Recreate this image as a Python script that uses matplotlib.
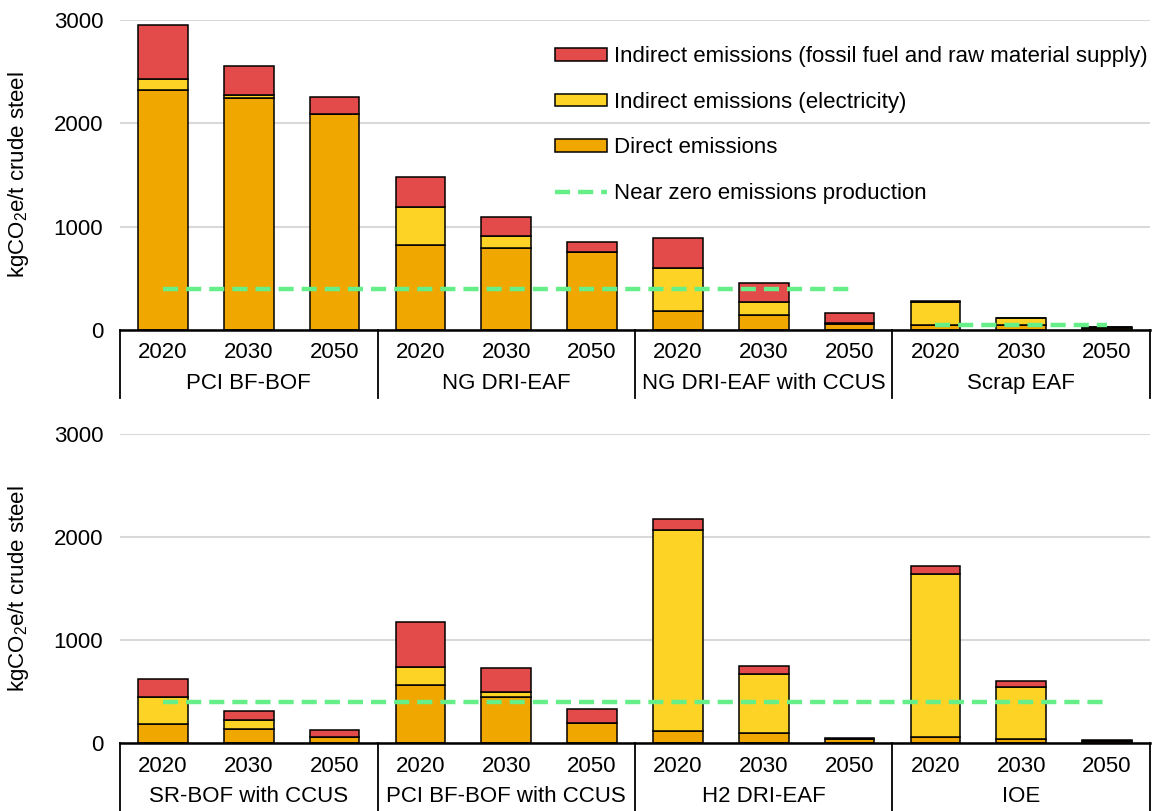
import numpy as np
import matplotlib
matplotlib.use('Agg')
import matplotlib.pyplot as plt
from matplotlib.patches import Patch
from matplotlib.lines import Line2D

plt.rcParams['font.family'] = ['Liberation Sans', 'DejaVu Sans']
plt.rcParams['mathtext.fontset'] = 'custom'
plt.rcParams['mathtext.rm'] = 'Liberation Sans'
plt.rcParams['mathtext.it'] = 'Liberation Sans'

years = ['2020', '2030', '2050']

# top panel
groups_top = ['PCI BF-BOF', 'NG DRI-EAF', 'NG DRI-EAF with CCUS', 'Scrap EAF']
direct_top = [2326, 2245, 2090, 820, 794, 752, 187, 145, 60, 52, 45, 20]
elec_top = [100, 30, 0, 374, 116, 0, 416, 126, 5, 216, 70, 8]
indirect_top = [526, 275, 168, 290, 181, 103, 291, 181, 96, 13, 5, 5]
nz_top = [400, 400, 400, 400, 400, 400, 400, 400, 400, np.nan, np.nan, np.nan]
nz_scrap = [np.nan, np.nan, np.nan, np.nan, np.nan, np.nan, np.nan, np.nan, np.nan, 50, 50, 50]

# bottom panel
groups_bot = ['SR-BOF with CCUS', 'PCI BF-BOF with CCUS', 'H2 DRI-EAF', 'IOE']
direct_bot = [180, 139, 58, 562, 443, 194, 116, 93, 38, 54, 42, 18]
elec_bot = [269, 80, 0, 178, 55, 0, 1953, 579, 5, 1585, 497, 4]
indirect_bot = [172, 87, 71, 430, 226, 136, 104, 71, 10, 81, 62, 7]
nz_bot = [400, 400, 400, 400, 400, 400, 400, 400, 400, 400, 400, 400]

c_direct = '#F0A800'
c_elec = '#FDD326'
c_ind = '#E24B4A'
c_nz = '#66EE88'
fs = 16

fig = plt.figure(figsize=(11.53, 8.11), dpi=100)
ax1 = fig.add_axes([120/1153, 1-330/811, 1030/1153, 310/811])
ax2 = fig.add_axes([120/1153, 1-743/811, 1030/1153, 309/811])


def draw(ax, groups, direct, elec, ind, lines):
    x = np.arange(len(direct))
    d = np.array(direct)
    e = np.array(elec)
    ax.bar(x, d, 0.58, color=c_direct, edgecolor='black', linewidth=1.1, zorder=2)
    ax.bar(x, e, 0.58, bottom=d, color=c_elec, edgecolor='black', linewidth=1.1, zorder=2)
    ax.bar(x, ind, 0.58, bottom=d + e, color=c_ind, edgecolor='black', linewidth=1.1, zorder=2)
    for vals in lines:
        ax.plot(x, vals, color=c_nz, lw=3.2, ls=(0, (3.4, 1.8)), zorder=3)

    ax.set_xlim(-0.5, len(direct) - 0.5)
    ax.set_ylim(0, 3000)
    ax.set_yticks([0, 1000, 2000, 3000])
    ax.yaxis.grid(True, color='#D9D9D9', lw=1.5)
    ax.set_axisbelow(True)
    for s in ['top', 'right', 'left']:
        ax.spines[s].set_visible(False)
    ax.spines['bottom'].set_linewidth(1.8)
    ax.tick_params(axis='y', length=0, pad=12, labelsize=fs)
    ax.set_xticks(x)
    ax.set_xticklabels(years * len(groups))
    ax.tick_params(axis='x', length=0, pad=9, labelsize=fs)
    ax.set_ylabel('kgCO$_2$e/t crude steel', fontsize=fs)
    ax.yaxis.set_label_coords(-89/1030, 0.5)

    tr = ax.get_xaxis_transform()
    for i, g in enumerate(groups):
        ax.text(3*i + 1, -0.172, g, transform=tr, ha='center', va='center', fontsize=fs)
    for b in np.arange(len(groups) + 1) * 3 - 0.5:
        ax.plot([b, b], [0, -0.22], color='black', lw=1.3, transform=tr, clip_on=False)


draw(ax1, groups_top, direct_top, elec_top, indirect_top, [nz_top, nz_scrap])
draw(ax2, groups_bot, direct_bot, elec_bot, indirect_bot, [nz_bot])

handles = [
    Patch(facecolor=c_ind, edgecolor='black', lw=1.1),
    Patch(facecolor=c_elec, edgecolor='black', lw=1.1),
    Patch(facecolor=c_direct, edgecolor='black', lw=1.1),
    Line2D([], [], color=c_nz, lw=3.2, ls=(0, (3.4, 1.8))),
]
labels = ['Indirect emissions (fossil fuel and raw material supply)',
          'Indirect emissions (electricity)',
          'Direct emissions',
          'Near zero emissions production']
ax1.legend(handles, labels, loc='upper right', bbox_to_anchor=(0.998, 0.915),
           frameon=False, fontsize=fs, borderpad=0, borderaxespad=0,
           handlelength=2.3, handleheight=0.5, handletextpad=0.35,
           labelspacing=1.1)

fig.savefig('out.png', dpi=100)
